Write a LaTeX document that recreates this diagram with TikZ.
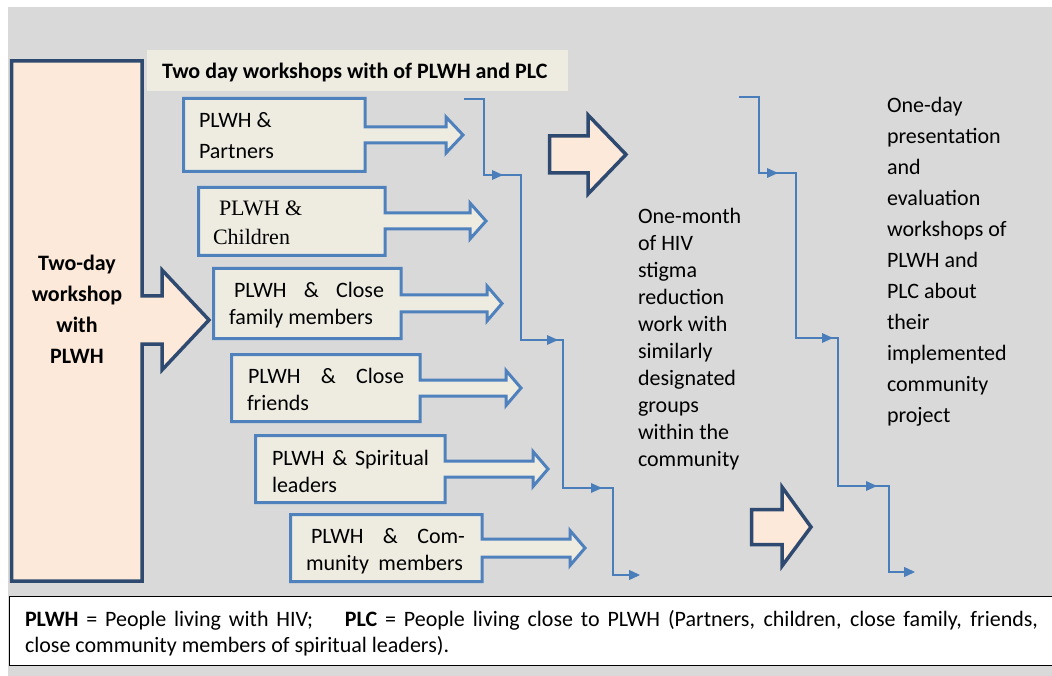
\documentclass[tikz,border=0pt]{standalone}
\usepackage{fontspec}
\setmainfont{Carlito}
\newfontfamily\timesf{Liberation Serif}
\usetikzlibrary{arrows.meta}
\definecolor{bggray}{RGB}{217,217,217}
\definecolor{peach}{RGB}{253,233,217}
\definecolor{darkblue}{RGB}{47,74,112}
\definecolor{boxfill}{RGB}{238,236,225}
\definecolor{boxblue}{RGB}{79,129,189}
\definecolor{linkblue}{RGB}{74,126,187}
\tikzset{
  smallarrow/.style={draw=boxblue, fill=boxfill, line width=3pt, line join=miter},
  bigarrow/.style={draw=darkblue, fill=peach, line width=3.5pt, line join=miter},
  link/.style={draw=linkblue, line width=1.3pt},
  linkend/.style={link, -{Triangle[length=11pt,width=10pt]}},
  txt/.style={anchor=base west, inner sep=0pt, outer sep=0pt},
}
% L T R B shafttop shaftbottom shaftend tipx headhalf
\newcommand\myblockarrow[9]{%
  \draw[smallarrow] (#1,#2) -- (#3,#2) -- (#3,#5) -- (#7,#5) -- (#7,{(#5+#6)/2-#9})
   -- (#8,{(#5+#6)/2}) -- (#7,{(#5+#6)/2+#9}) -- (#7,#6) -- (#3,#6) -- (#3,#4) -- (#1,#4) -- cycle;}
\newcommand\mymidtip[2]{\fill[linkblue] (#1,#2) -- ({#1-11},{#2-5}) -- ({#1-11},{#2+5}) -- cycle;}
\begin{document}
\begin{tikzpicture}[x=1pt,y=-1pt]
\useasboundingbox (0,0) rectangle (1052,676);
\clip (0,0) rectangle (1052,676);
\fill[white] (0,0) rectangle (1052,676);
\fill[bggray] (8,7) rectangle (1052,676);

% left big box with arrow
\draw[bigarrow] (142,296) -- (142,61) -- (11.5,61) -- (11.5,581) -- (142,581) -- (142,344)
  -- (162,344) -- (162,370) -- (209,320) -- (162,270) -- (162,296) -- cycle;
\node[anchor=base, inner sep=0pt] (lefttext) at (77,271)
  {\parbox[t]{125pt}{\centering\bfseries\fontsize{22}{31}\selectfont Two-day\\workshop\\with\\PLWH}};

% title
\fill[boxfill] (147,50) rectangle (568,91);
\node[txt] (title) at (162,79) {\fontsize{22}{26}\selectfont\bfseries Two day workshops with of PLWH and PLC};

% small block arrows
\myblockarrow{183.5}{98.5}{365}{171.5}{127}{143}{446}{463}{18}
\myblockarrow{198.5}{187.5}{385}{255.5}{213}{229}{470}{486}{18}
\myblockarrow{213.5}{268.5}{401}{338.5}{295}{312}{487}{502}{17.5}
\myblockarrow{231.5}{354.5}{420}{421.5}{380}{396}{506}{521}{17.5}
\myblockarrow{255.5}{435.5}{445}{502.5}{461}{477}{533}{548}{17.5}
\myblockarrow{290.5}{514.5}{482}{581.5}{539}{557}{570}{585}{17.5}

\node[txt] (t1) at (199,128) {\parbox[t]{150pt}{\fontsize{22}{31}\selectfont PLWH \&\\Partners}};
\node[txt] (t2) at (213,216) {\parbox[t]{150pt}{\timesf\fontsize{22}{29}\selectfont \hspace*{6pt}PLWH \&\\Children}};
\node[txt] (t3) at (229,298) {\parbox[t]{170pt}{\fontsize{22}{27}\selectfont \hspace*{5pt}\makebox[150pt][s]{PLWH \& Close}\\family members}};
\node[txt] (t4) at (247,383) {\parbox[t]{170pt}{\fontsize{22}{27}\selectfont \hspace*{1pt}\makebox[156pt][s]{PLWH \& Close}\\friends}};
\node[txt] (t5) at (272,465) {\parbox[t]{170pt}{\fontsize{22}{27}\selectfont \makebox[157pt][s]{PLWH \& Spiritual}\\leaders}};
\node[txt] (t6) at (306,543) {\parbox[t]{170pt}{\fontsize{22}{27}\selectfont \hspace*{5pt}\makebox[154pt][s]{PLWH \& Com-}\\\makebox[157pt][s]{munity members}}};

% step connectors
\coordinate (c1s) at (464,99);
\coordinate (c1e) at (640,575);
\draw[linkend] (c1s) -- (484,99) -- (484,175) -- (521,175) -- (521,340) -- (563,340)
  -- (563,488) -- (613,488) -- (613,575) -- (c1e);
\mymidtip{503}{175}
\mymidtip{558}{340}
\mymidtip{602}{488}

\coordinate (c2s) at (739,97);
\coordinate (c2e) at (915,572);
\draw[linkend] (c2s) -- (759,97) -- (759,173) -- (796,173) -- (796,338) -- (838,338)
  -- (838,486) -- (889,486) -- (889,572) -- (c2e);
\mymidtip{778}{173}
\mymidtip{833}{338}
\mymidtip{877}{486}

% peach arrows
\draw[bigarrow] (549.5,136) -- (588,136) -- (588,115) -- (626,154.5) -- (588,194) -- (588,173)
  -- (549.5,173) -- cycle;
\draw[bigarrow] (751.5,509.5) -- (782,509.5) -- (782,487) -- (811,527) -- (782,566) -- (782,544.5)
  -- (751.5,544.5) -- cycle;

% middle and right texts
\node[txt] (month) at (638,224) {\parbox[t]{130pt}{\fontsize{22}{27}\selectfont
  One-month\\of HIV\\stigma\\reduction\\work with\\similarly\\designated\\groups\\within the\\community}};
\node[txt] (oneday) at (887,113) {\parbox[t]{160pt}{\fontsize{22}{31}\selectfont
  One-day\\presentation\\and\\evaluation\\workshops of\\PLWH and\\PLC about\\their\\implemented\\community\\project}};

% legend
\draw[fill=white, draw=black, line width=1.5pt] (9.5,596.5) rectangle (1070,665.5);
\node[txt] (legend) at (25,626) {\parbox[t]{1013pt}{\fontsize{22}{26}\selectfont
  \makebox[1013pt][s]{\textbf{PLWH} = People living with HIV;\hspace{24pt} \textbf{PLC} = People living close to PLWH (Partners, children, close family, friends,}\\
  close community members of spiritual leaders).}};
\end{tikzpicture}
\end{document}
